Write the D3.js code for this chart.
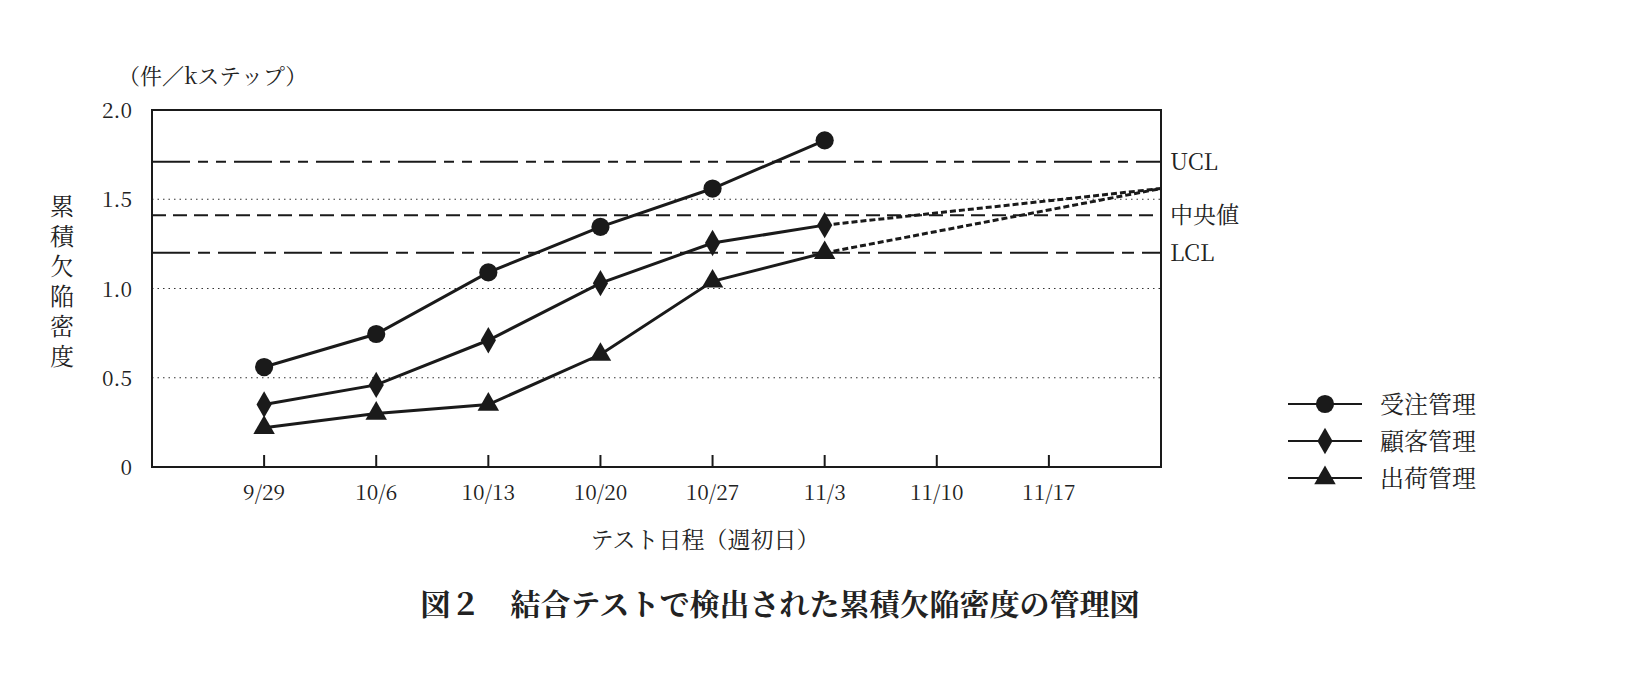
<!DOCTYPE html><html><head><meta charset="utf-8"><script src="https://cdn.jsdelivr.net/npm/d3@7"></script>
<style>body{margin:0;background:#fff}text{font-family:"Noto Serif CJK JP","Noto Sans CJK JP",serif;fill:#222}</style></head><body><svg id="c" width="1644" height="692"></svg><script>
const dates=["9/29","10/6","10/13","10/20","10/27","11/3","11/10","11/17"];
const yTicks=[0,0.5,1.0,1.5,2.0];
const juchu=[0.56,0.745,1.09,1.345,1.56,1.83];
const kokyaku=[0.35,0.46,0.71,1.03,1.255,1.355];
const shukka=[0.22,0.30,0.35,0.63,1.04,1.20];
const projEnd=1.56;
const UCL=1.71, center=1.41, LCL=1.20;
const seriesNames=["受注管理","顧客管理","出荷管理"];
const svg=d3.select("#c");
const x=d3.scaleLinear().domain([-1,8]).range([152,1161]);
const y=d3.scaleLinear().domain([0,2]).range([467,110]);
const ink="#1a1a1a";
yTicks.filter(v=>v>0&&v<2).forEach(v=>svg.append("line").attr("x1",152).attr("x2",1161).attr("y1",y(v)).attr("y2",y(v)).attr("stroke","#333").attr("stroke-width",1.2).attr("stroke-dasharray","1.5,4"));
svg.append("rect").attr("x",152).attr("y",110).attr("width",1009).attr("height",357).attr("fill","none").attr("stroke",ink).attr("stroke-width",2);
const cl=[[UCL,"38,8,10,8,10,8","UCL"],[center,"14,7","中央値"],[LCL,"38,8,12,8","LCL"]];
cl.forEach(([v,d,t])=>{svg.append("line").attr("x1",152).attr("x2",1161).attr("y1",y(v)).attr("y2",y(v)).attr("stroke",ink).attr("stroke-width",2).attr("stroke-dasharray",d);
svg.append("text").attr("x",1170).attr("y",y(v)+8).attr("font-size",23).text(t);});
dates.forEach((d,i)=>{svg.append("line").attr("x1",x(i)).attr("x2",x(i)).attr("y1",467).attr("y2",455).attr("stroke",ink).attr("stroke-width",2);
svg.append("text").attr("x",x(i)).attr("y",500).attr("text-anchor","middle").attr("font-size",21).text(d);});
yTicks.forEach(v=>svg.append("text").attr("x",132).attr("y",y(v)+8).attr("text-anchor","end").attr("font-size",21).text(v===0?"0":v.toFixed(1)));
const line=d3.line().x((d,i)=>x(i)).y(d=>y(d));
[kokyaku,shukka].forEach(s=>svg.append("line").attr("x1",x(5)).attr("y1",y(s[5])).attr("x2",x(8)).attr("y2",y(projEnd)).attr("stroke",ink).attr("stroke-width",3).attr("stroke-dasharray","6,3"));
const syms=[d3.symbolCircle,d3.symbolDiamond,d3.symbolTriangle];const sz=[260,200,200];
[juchu,kokyaku,shukka].forEach((s,k)=>{svg.append("path").attr("d",line(s)).attr("fill","none").attr("stroke",ink).attr("stroke-width",3);
s.forEach((v,i)=>svg.append("path").attr("d",d3.symbol(syms[k],sz[k])()).attr("transform",`translate(${x(i)},${y(v)})`).attr("fill",ink));});
seriesNames.forEach((n,k)=>{const yy=404+k*37;svg.append("line").attr("x1",1288).attr("x2",1362).attr("y1",yy).attr("y2",yy).attr("stroke",ink).attr("stroke-width",2);
svg.append("path").attr("d",d3.symbol(syms[k],sz[k])()).attr("transform",`translate(1325,${yy})`).attr("fill",ink);
svg.append("text").attr("x",1380).attr("y",yy+9).attr("font-size",24).text(n);});
svg.append("text").attr("x",118).attr("y",84).attr("font-size",22).text("（件／kステップ）");
"累積欠陥密度".split("").forEach((c,i)=>svg.append("text").attr("x",62).attr("y",215+i*30).attr("text-anchor","middle").attr("font-size",24).text(c));
svg.append("text").attr("x",705).attr("y",548).attr("text-anchor","middle").attr("font-size",23).text("テスト日程（週初日）");
svg.append("text").attr("x",780).attr("y",615).attr("text-anchor","middle").attr("font-size",30).attr("font-weight","bold").attr("font-family","Noto Sans CJK JP").text("図２　結合テストで検出された累積欠陥密度の管理図");
</script></body></html>
